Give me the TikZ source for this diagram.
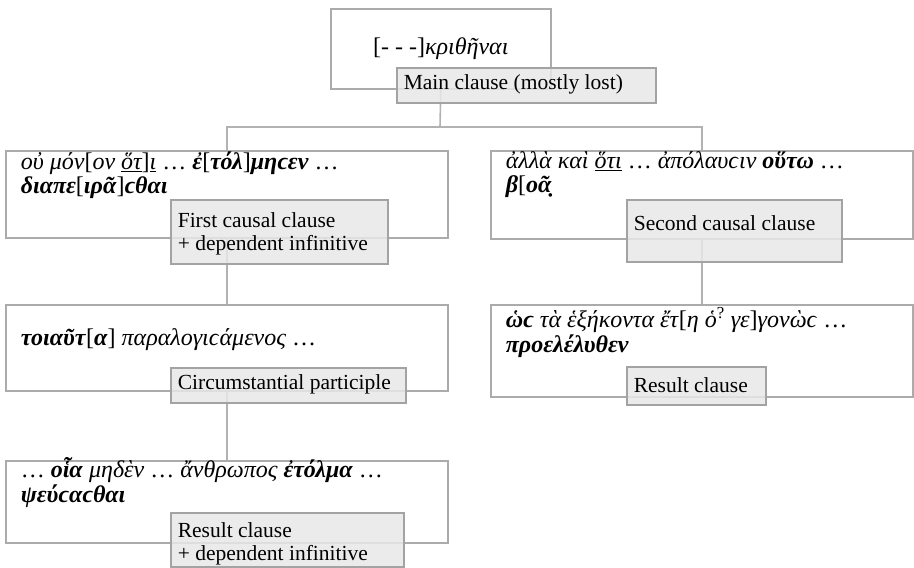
\documentclass[tikz,border=0pt]{standalone}
\usepackage{fontspec}
\setmainfont{Liberation Serif}
\newcommand{\gi}[1]{\textit{#1}}
\newcommand{\gb}[1]{\textbf{\textit{#1}}}

\begin{document}
\begin{tikzpicture}[x=1pt, y=-1pt,
    clause/.style={draw=black!33, line width=1.6pt, anchor=north west,
      inner xsep=15pt, inner ysep=0pt, font=\fontsize{24}{20}\selectfont},
    role/.style={draw=black!36, line width=1.6pt, fill=black!9,
      fill opacity=0.85, text opacity=1, anchor=north west,
      inner xsep=7pt, inner ysep=0pt, font=\fontsize{21.5}{21}\selectfont},
    link/.style={draw=black!30, line width=1.6pt}]
    \useasboundingbox (0,0) rectangle (914,568);

    % Hauptsatz oben
    \node[clause] (top) at (330,8) {\parbox[t][80pt][t]{190pt}{\centering\vspace{29pt}\strut[- - -]\gi{κριθῆναι}}};

    % erste Ebene: zwei Kausalsätze
    \node[clause] (l1) at (5,150) {\parbox[t][87pt][t]{412pt}{\vspace{1pt}\strut\gi{οὐ μόν}[\gi{ον \underline{ὅτ}}]\underline{\gi{ι}} … \gb{ἐ}[\gb{τόλ}]\gb{μηϲεν} …\\\gb{διαπε}[\gb{ιρᾶ}]\gb{ϲθαι}}};
    \node[clause] (r1) at (490,150) {\parbox[t][88pt][t]{392pt}{\vspace{1pt}\strut\gi{ἀλλὰ καὶ \underline{ὅτι}} … \gi{ἀπόλαυϲιν} \gb{οὕτω} …\\\gb{β}[\gb{οᾶ̣}}};

    % zweite Ebene
    \node[clause] (l2) at (5,304) {\parbox[t][86pt][t]{412pt}{\vspace{24pt}\strut\gb{τοιαῦτ}[\gb{α}] \gi{παραλογιϲάμενος} …}};
    \node[clause] (r2) at (490,304) {\parbox[t][92pt][t]{392pt}{\vspace{3pt}\strut\gb{ὡϲ} \gi{τὰ ἑξήκοντα ἔτ}[\gi{η ὁ}\textsuperscript{?} \gi{γε}]\gi{γονὼϲ} …\\\gb{προελέλυθεν}}};

    % dritte Ebene
    \node[clause] (l3) at (5,460) {\parbox[t][82pt][t]{412pt}{\vspace{-3pt}\strut… \gb{οἷα} \gi{μηδὲν} … \gi{ἄνθρωπος} \gb{ἐτόλμα} …\\\gb{ψεύϲαϲθαι}}};

    % Verbindungen
    \coordinate (split) at (440,127);
    \draw[link] (top.south) -- (split);
    \draw[link] (l1.north) |- (split) -| (r1.north);
    \draw[link] (l1.south) -- (l2.north);
    \draw[link] (r1.south) -- (r2.north);
    \draw[link] (l2.south) -- (l3.north);

    % Etiketten (Satzfunktion)
    \node[role] (mainlab) at (396,67) {\parbox[t][35pt][t]{245pt}{\vspace{7pt}\strut Main clause (mostly lost)}};
    \node[role] (lab1) at (170,199) {\parbox[t][64pt][t]{203pt}{\vspace{13pt}\strut First causal clause\\+ dependent infinitive}};
    \node[role] (labr1) at (626,199) {\parbox[t][62pt][t]{201pt}{\vspace{16pt}\strut Second causal clause}};
    \node[role] (lab2) at (170,367) {\parbox[t][35pt][t]{221pt}{\vspace{7pt}\strut Circumstantial participle}};
    \node[role] (labr2) at (626,366) {\parbox[t][38pt][t]{125pt}{\vspace{11pt}\strut Result clause}};
    \node[role] (lab3) at (170,512) {\parbox[t][54pt][t]{219pt}{\vspace{10pt}\strut Result clause\\+ dependent infinitive}};
  \end{tikzpicture}
\end{document}
